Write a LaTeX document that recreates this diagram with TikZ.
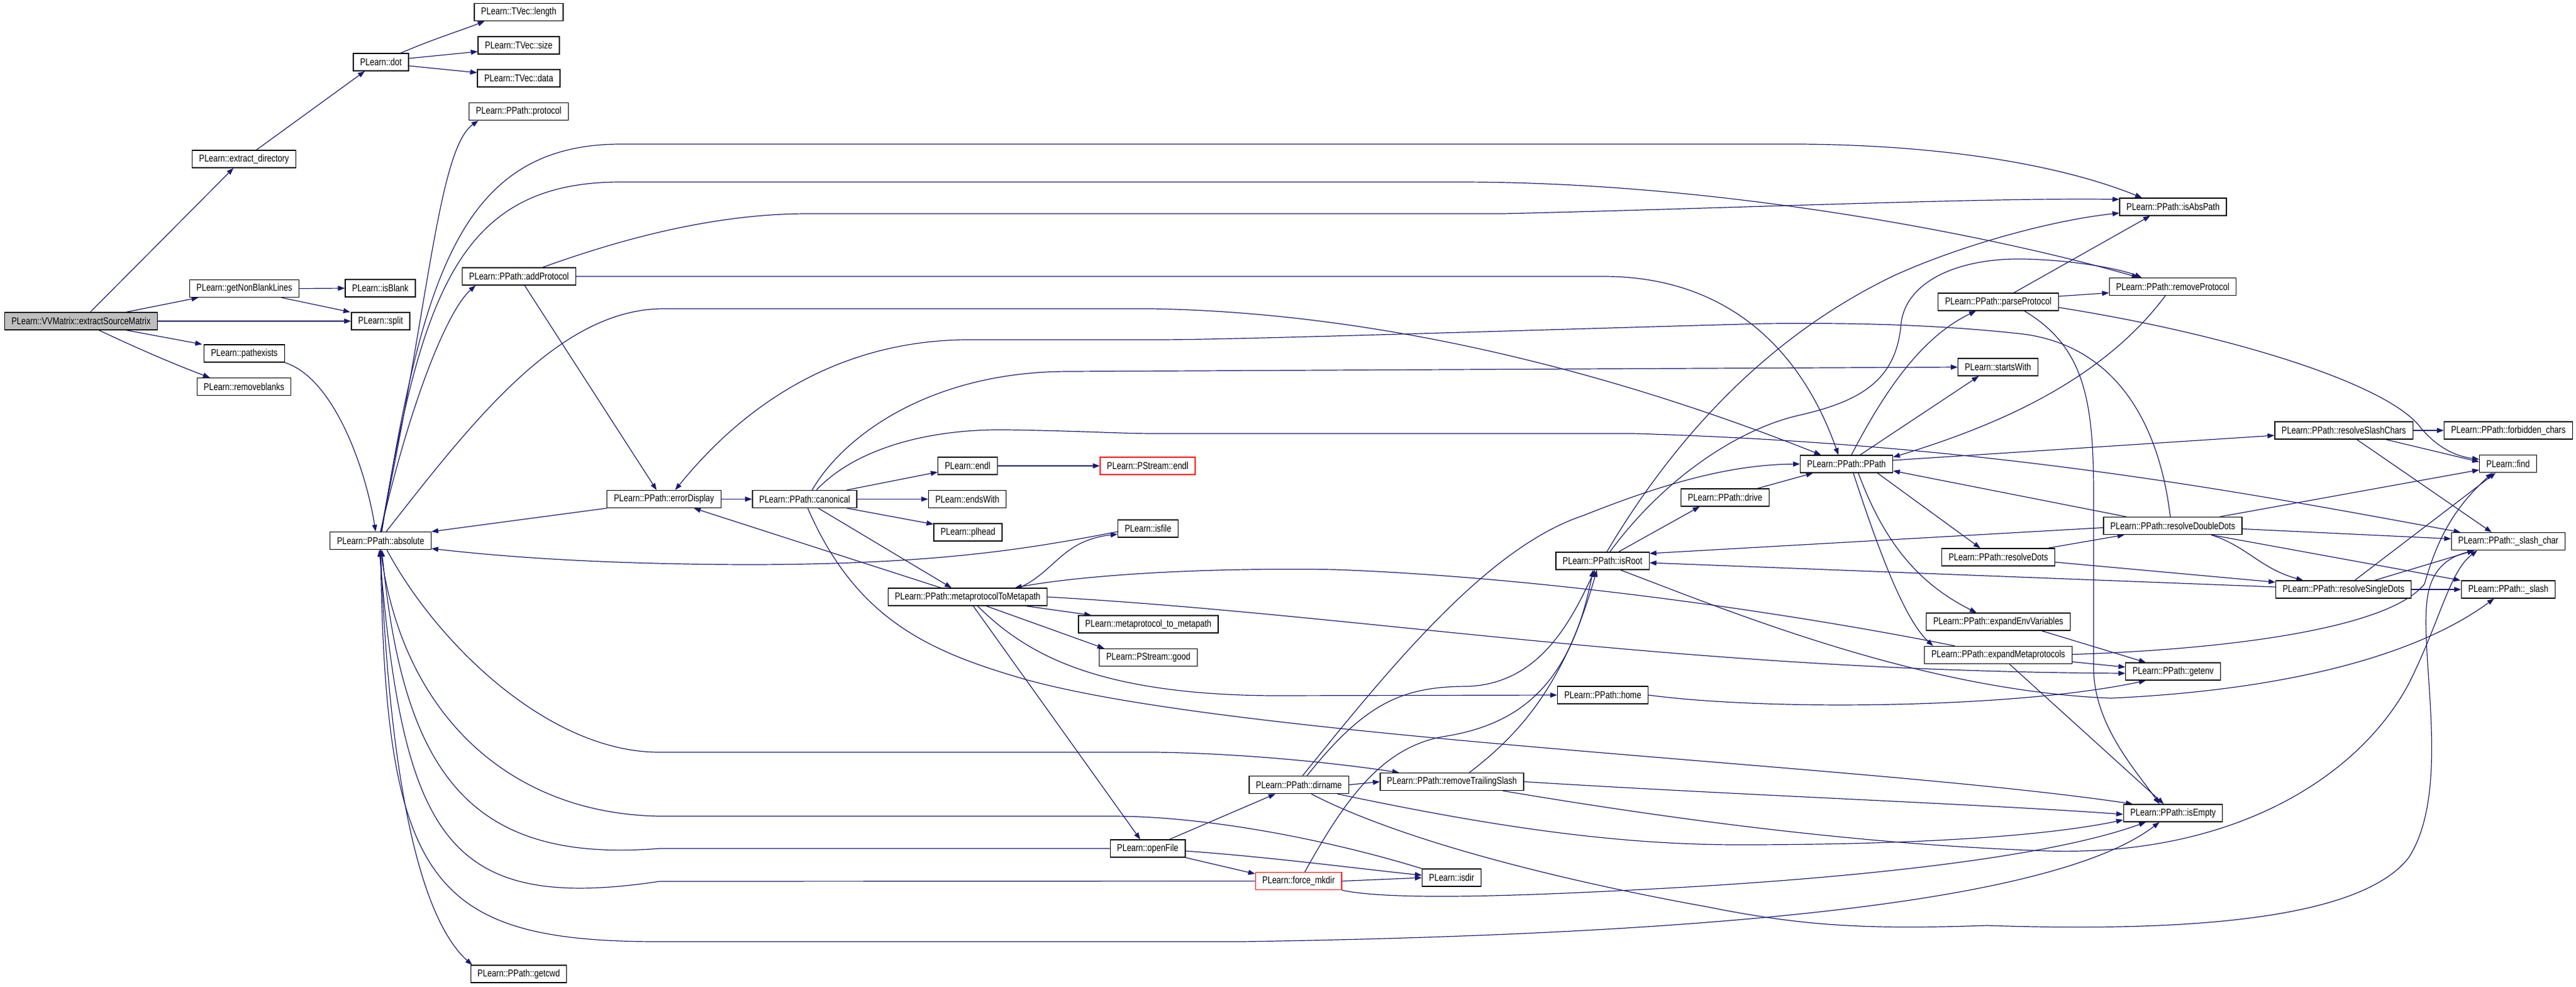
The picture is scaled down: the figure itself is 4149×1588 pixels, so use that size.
\documentclass[tikz,border=0pt]{standalone}
\usepackage{fontspec}
\setmainfont{Liberation Sans}
\usepackage{graphicx}
\usetikzlibrary{arrows.meta}
\definecolor{edgec}{HTML}{191970}
\definecolor{rootfill}{HTML}{BFBFBF}
\newcommand\nm[1]{\scalebox{0.81}[1]{#1}}
\pgfdeclarelayer{bg}
\pgfsetlayers{bg,main}
\begin{document}
\begin{tikzpicture}[x=1pt,y=-1pt,
  fn/.style={draw=black, line width=1.3pt, fill=white, minimum height=28pt,
    inner xsep=11pt, inner ysep=0pt, font=\fontsize{16}{16}\selectfont},
  redbox/.style={fn, draw=red},
  rootbox/.style={fn, fill=rootfill},
  cl/.style={draw=edgec, line width=1.2pt, -{Triangle[length=11pt,width=8pt]}}]
\useasboundingbox (0,0) rectangle (4149,1588);
% nodes
\node[rootbox] (vv) at (130.5,517) {\nm{PLearn::VVMatrix::extractSourceMatrix}};
\node[fn] (exdir) at (393,256) {\nm{PLearn::extract\_directory}};
\node[fn] (gnbl) at (393.5,464.5) {\nm{PLearn::getNonBlankLines}};
\node[fn] (pexists) at (393.5,569) {\nm{PLearn::pathexists}};
\node[fn] (rmblanks) at (393,622.5) {\nm{PLearn::removeblanks}};
\node[fn] (dot) at (613.5,100) {\nm{PLearn::dot}};
\node[fn] (isblank) at (612.5,464) {\nm{PLearn::isBlank}};
\node[fn] (split) at (613,517) {\nm{PLearn::split}};
\node[fn] (absolute) at (613,870.5) {\nm{PLearn::PPath::absolute}};
\node[fn] (tlen) at (835.5,19.5) {\nm{PLearn::TVec::length}};
\node[fn] (tsize) at (835.5,73) {\nm{PLearn::TVec::size}};
\node[fn] (tdata) at (835.5,126) {\nm{PLearn::TVec::data}};
\node[fn] (protocol) at (835.5,179.5) {\nm{PLearn::PPath::protocol}};
\node[fn] (addp) at (836,445) {\nm{PLearn::PPath::addProtocol}};
\node[fn] (getcwd) at (835.5,1568) {\nm{PLearn::PPath::getcwd}};
\node[fn] (errd) at (1069.5,803.5) {\nm{PLearn::PPath::errorDisplay}};
\node[fn] (canon) at (1296,803.5) {\nm{PLearn::PPath::canonical}};
\node[fn] (endl) at (1558.5,750) {\nm{PLearn::endl}};
\node[fn] (endsw) at (1558,803.5) {\nm{PLearn::endsWith}};
\node[fn] (plhead) at (1559,857) {\nm{PLearn::plhead}};
\node[fn] (mtm) at (1558.5,961) {\nm{PLearn::PPath::metaprotocolToMetapath}};
\node[redbox] (pendl) at (1848.5,750) {\nm{PLearn::PStream::endl}};
\node[fn] (isfile) at (1849,851) {\nm{PLearn::isfile}};
\node[fn] (m2m) at (1849.5,1005) {\nm{PLearn::metaprotocol\_to\_metapath}};
\node[fn] (good) at (1849.5,1058.5) {\nm{PLearn::PStream::good}};
\node[fn] (openf) at (1848.5,1366) {\nm{PLearn::openFile}};
\node[fn] (dirname) at (2092,1263.5) {\nm{PLearn::PPath::dirname}};
\node[redbox] (fmkdir) at (2091.5,1418.5) {\nm{PLearn::force\_mkdir}};
\node[fn] (rts) at (2338.5,1258.5) {\nm{PLearn::PPath::removeTrailingSlash}};
\node[fn] (isdir) at (2338,1413) {\nm{PLearn::isdir}};
\node[fn] (isroot) at (2581,903) {\nm{PLearn::PPath::isRoot}};
\node[fn] (home) at (2581.5,1119) {\nm{PLearn::PPath::home}};
\node[fn] (drive) at (2778.5,801) {\nm{PLearn::PPath::drive}};
\node[fn] (ppath) at (2974,747) {\nm{PLearn::PPath::PPath}};
\node[fn] (parsep) at (3218.5,486) {\nm{PLearn::PPath::parseProtocol}};
\node[fn] (startsw) at (3218,591) {\nm{PLearn::startsWith}};
\node[fn] (rdots) at (3218.5,897) {\nm{PLearn::PPath::resolveDots}};
\node[fn] (eev) at (3218.5,1001) {\nm{PLearn::PPath::expandEnvVariables}};
\node[fn] (emp) at (3218.5,1054.5) {\nm{PLearn::PPath::expandMetaprotocols}};
\node[fn] (isabs) at (3500,333) {\nm{PLearn::PPath::isAbsPath}};
\node[fn] (rmprot) at (3499.5,461.5) {\nm{PLearn::PPath::removeProtocol}};
\node[fn] (rdd) at (3499.5,846.5) {\nm{PLearn::PPath::resolveDoubleDots}};
\node[fn] (getenv) at (3500,1081) {\nm{PLearn::PPath::getenv}};
\node[fn] (isempty) at (3500,1309) {\nm{PLearn::PPath::isEmpty}};
\node[fn] (rsc) at (3775,693) {\nm{PLearn::PPath::resolveSlashChars}};
\node[fn] (rsd) at (3774.5,949) {\nm{PLearn::PPath::resolveSingleDots}};
\node[fn] (forb) at (4040,693) {\nm{PLearn::PPath::forbidden\_chars}};
\node[fn] (find) at (4039.5,746.5) {\nm{PLearn::find}};
\node[fn] (slashc) at (4040,871.5) {\nm{PLearn::PPath::\_slash\_char}};
\node[fn] (slash) at (4040,949) {\nm{PLearn::PPath::\_slash}};
% edges
\begin{pgfonlayer}{bg}
\draw[cl] ([xshift=15pt]vv.north) -- ([xshift=-17pt]exdir.south);
\draw[cl] ([xshift=73pt]vv.north) -- ([xshift=-74pt]gnbl.south);
\draw[cl] (vv.east) -- (split.west);
\draw[cl] ([xshift=73pt]vv.south) -- ([xshift=-68pt]pexists.north);
\draw[cl] ([xshift=29pt]vv.south) .. controls (230,565) and (290,590) .. ([xshift=-55pt]rmblanks.north);
\draw[cl] ([xshift=20pt]exdir.north) -- ([xshift=-26pt]dot.south);
\draw[cl] ([xshift=32pt]dot.north) .. controls (700,62) and (740,50) .. ([xshift=-55pt]tlen.south);
\draw[cl] ([yshift=6pt]dot.east) -- ([yshift=-10pt]tsize.west);
\draw[cl] ([yshift=-6pt]dot.east) -- ([yshift=9pt]tdata.west);
\draw[cl] (gnbl.east) -- (isblank.west);
\draw[cl] ([xshift=60pt]gnbl.south) -- ([xshift=-49pt]split.north);
\draw[cl] (pexists.south east) .. controls (540,610) and (590,760) .. ([xshift=-8pt]absolute.north);
% absolute
\draw[cl] (absolute.north) .. controls (690,500) and (705,240) .. ([xshift=-65pt]protocol.south);
\draw[cl] ([xshift=2pt]absolute.north) .. controls (680,450) and (740,232) .. (1000,232) -- (2900,232) .. controls (3150,234) and (3330,270) .. ([xshift=-50pt]isabs.north);
\draw[cl] ([xshift=1pt]absolute.north) .. controls (680,470) and (740,293) .. (1000,293) -- (2350,293) .. controls (2800,293) and (3250,390) .. ([xshift=-55pt]rmprot.north);
\draw[cl] (absolute.north) .. controls (660,650) and (720,500) .. ([xshift=-70pt]addp.south);
\draw[cl] ([xshift=9pt]absolute.north) .. controls (760,680) and (900,497) .. (1069,497) -- (1855,497) .. controls (2300,505) and (2700,640) .. ([xshift=-41pt]ppath.north);
\draw[cl] ([xshift=10pt]absolute.south) .. controls (700,1030) and (880,1211) .. (1062,1211) -- (1862,1211) .. controls (2000,1213) and (2150,1228) .. ([xshift=-85pt]rts.north);
\draw[cl] (absolute.south) .. controls (620,1420) and (690,1516) .. (1062,1516) -- (2000,1516) .. controls (2700,1505) and (3300,1460) .. ([xshift=-22pt]isempty.south);
\draw[cl] (absolute.south) .. controls (630,1350) and (700,1500) .. ([xshift=-75pt]getcwd.north);
% addProtocol
\draw[cl] ([xshift=38pt]addp.north) .. controls (1000,385) and (1150,344) .. (1301,344) -- (2421,344) .. controls (2800,335) and (3200,318) .. ([yshift=12pt]isabs.west);
\draw[cl] (addp.east) -- (2582,445) .. controls (2780,445) and (2900,560) .. ([xshift=-13pt]ppath.north);
\draw[cl] ([xshift=9pt]addp.south) -- ([xshift=-12pt]errd.north);
% errorDisplay, canonical
\draw[cl] (errd.south west) -- (absolute.north east);
\draw[cl] (errd.east) -- (canon.west);
\draw[cl] ([xshift=68pt]canon.north) -- ([yshift=-10pt]endl.west);
\draw[cl] (canon.east) -- (endsw.west);
\draw[cl] ([xshift=68pt]canon.south) -- ([yshift=13pt]plhead.west);
\draw[cl] ([xshift=22pt]canon.south) -- ([xshift=-26pt]mtm.north);
\draw[cl] ([xshift=12pt]canon.north) .. controls (1360,700) and (1500,598) .. (1722,598) -- (startsw.west);
\draw[cl] ([xshift=19pt]canon.north) .. controls (1380,720) and (1500,690) .. (1623,692) .. controls (1750,694) and (1800,698) .. (1862,698) -- (2631,698) .. controls (3200,715) and (3600,790) .. ([xshift=-77pt]slashc.north);
\draw[cl] ([xshift=5pt]canon.south) .. controls (1380,1000) and (1500,1050) .. (1652,1094) .. controls (2000,1190) and (3000,1230) .. ([xshift=-65pt]isempty.north);
\draw[cl] (endl.east) -- (pendl.west);
% metaprotocolToMetapath
\draw[cl] ([xshift=-43pt]mtm.north) -- ([xshift=48pt]errd.south);
\draw[cl] ([xshift=83pt]mtm.north) .. controls (1700,920) and (1710,870) .. ([yshift=-9pt]isfile.west);
\draw[cl] ([xshift=94pt]mtm.south) -- ([xshift=-92pt]m2m.north);
\draw[cl] ([xshift=30pt]mtm.south) -- ([xshift=-71pt]good.north);
\draw[cl] ([xshift=9pt]mtm.south) -- ([xshift=-12pt]openf.north);
\draw[cl] ([xshift=16pt]mtm.south) .. controls (1650,1050) and (1760,1118) .. (2050,1120) -- (home.west);
\draw[cl] (mtm.east) .. controls (2200,990) and (2700,1080) .. ([yshift=-3pt]getenv.west);
\draw[cl] ([yshift=-5pt]isfile.west) .. controls (1650,885) and (1500,909) .. (1200,909) .. controls (950,908) and (800,895) .. ([yshift=2pt]absolute.south east);
% openFile, force_mkdir, isdir
\draw[cl] (openf.west) -- (1062,1366) .. controls (760,1390) and (650,1250) .. ([xshift=2pt]absolute.south);
\draw[cl] ([xshift=35pt]openf.north) -- ([xshift=-38pt]dirname.south);
\draw[cl] (openf.south east) -- ([yshift=-3pt]fmkdir.north west);
\draw[cl] ([yshift=-4pt]openf.east) .. controls (2050,1380) and (2200,1400) .. ([yshift=4pt]isdir.west);
\draw[cl] (fmkdir.west) -- (1062,1419) .. controls (720,1470) and (650,1350) .. ([xshift=-2pt]absolute.south);
\draw[cl] (fmkdir.east) -- (isdir.west);
\draw[cl] ([xshift=10pt]fmkdir.north) .. controls (2170,1280) and (2230,1200) .. (2330,1185) .. controls (2450,1165) and (2530,1100) .. ([xshift=-15pt]isroot.south);
\draw[cl] (fmkdir.south east) .. controls (2250,1452) and (2500,1440) .. (2701,1429) .. controls (3000,1412) and (3300,1380) .. ([xshift=-44pt]isempty.south);
\draw[cl] (isdir.north west) .. controls (2150,1355) and (1950,1314) .. (1792,1314) -- (1062,1314) .. controls (820,1310) and (650,1150) .. (absolute.south);
% dirname, removeTrailingSlash
\draw[cl] ([xshift=6pt]dirname.north) .. controls (2250,1060) and (2400,880) .. (2550,830) .. controls (2700,770) and (2800,748) .. (ppath.west);
\draw[cl] ([xshift=13pt]dirname.north) .. controls (2200,1130) and (2260,1105) .. (2365,1105) .. controls (2480,1100) and (2530,1000) .. ([xshift=-12pt]isroot.south);
\draw[cl] (dirname.east) -- (rts.west);
\draw[cl] ([xshift=62pt]dirname.south) .. controls (2400,1330) and (2600,1360) .. (2800,1360) .. controls (3100,1360) and (3300,1345) .. ([yshift=-11pt]isempty.west);
\draw[cl] ([xshift=20pt]dirname.south) .. controls (2250,1350) and (2500,1415) .. (2750,1460) .. controls (2900,1490) and (3000,1497) .. (3200,1490) .. controls (3500,1500) and (3800,1485) .. (3880,1380) .. controls (3950,1270) and (3895,1050) .. (3910,960) .. controls (3918,910) and (3950,895) .. ([xshift=-55pt]slashc.south);
\draw[cl] ([xshift=28pt]rts.north) .. controls (2450,1180) and (2520,1100) .. ([xshift=-9pt]isroot.south);
\draw[cl] (rts.east) .. controls (2800,1280) and (3200,1295) .. ([yshift=-2pt]isempty.west);
\draw[cl] ([xshift=82pt]rts.south) .. controls (2700,1320) and (3000,1360) .. (3300,1370) .. controls (3600,1378) and (3800,1250) .. (3880,1100) .. controls (3930,1000) and (3945,920) .. ([xshift=-50pt]slashc.south);
% isRoot, drive, home
\draw[cl] ([xshift=7pt]isroot.north) .. controls (2700,700) and (2850,540) .. (3050,444) .. controls (3150,398) and (3300,355) .. ([yshift=-10pt]isabs.west);
\draw[cl] ([xshift=12pt]isroot.north) .. controls (2680,770) and (2800,690) .. (2900,668) .. controls (3000,645) and (3055,610) .. (3062,520) .. controls (3070,455) and (3150,415) .. (3260,417) .. controls (3350,419) and (3420,435) .. ([xshift=-50pt]rmprot.north);
\draw[cl] ([xshift=26pt]isroot.north) -- ([xshift=-41pt]drive.south);
\draw[cl] ([xshift=29pt]isroot.south) .. controls (2800,990) and (3100,1112) .. (3400,1124) .. controls (3700,1110) and (3900,1050) .. ([xshift=-23pt]slash.south);
\draw[cl] ([xshift=52pt]drive.north) -- ([xshift=-54pt]ppath.south);
\draw[cl] (home.east) .. controls (2850,1145) and (3250,1140) .. ([xshift=-44pt]getenv.south);
% PPath
\draw[cl] ([xshift=8pt]ppath.north) .. controls (3040,620) and (3100,540) .. ([xshift=-36pt]parsep.south);
\draw[cl] ([xshift=22pt]ppath.north) -- ([xshift=-31pt]startsw.south);
\draw[cl] ([yshift=6pt]ppath.east) -- ([yshift=-8pt]rsc.west);
\draw[cl] ([xshift=50pt]ppath.south) -- ([xshift=-29pt]rdots.north);
\draw[cl] ([xshift=19pt]ppath.south) .. controls (3030,860) and (3080,935) .. ([xshift=-35pt]eev.north);
\draw[cl] ([xshift=11pt]ppath.south) .. controls (3030,900) and (3070,1000) .. ([xshift=-105pt]emp.north);
% parseProtocol, removeProtocol
\draw[cl] ([xshift=25pt]parsep.north) -- ([xshift=-37pt]isabs.south);
\draw[cl] ([yshift=9pt]parsep.east) -- ([yshift=-10pt]rmprot.west);
\draw[cl] ([yshift=-9pt]parsep.east) .. controls (3600,540) and (3850,620) .. (3900,690) .. controls (3930,725) and (3960,735) .. ([yshift=7pt]find.west);
\draw[cl] ([xshift=42pt]parsep.south) .. controls (3360,560) and (3372,650) .. (3372,800) -- (3372,1080) .. controls (3375,1170) and (3440,1240) .. ([xshift=-22pt]isempty.north);
\draw[cl] ([xshift=-12pt]rmprot.south) .. controls (3380,620) and (3200,690) .. ([yshift=11pt]ppath.east);
% resolveDots family
\draw[cl] ([xshift=80pt]rdots.north) -- ([xshift=-78pt]rdd.south);
\draw[cl] ([yshift=-8pt]rdots.east) -- ([yshift=-3pt]rsd.north west);
\draw[cl] ([yshift=-3pt]rdd.west) -- ([yshift=12pt]isroot.east);
\draw[cl] ([yshift=4pt]rsd.west) -- ([yshift=-3pt]isroot.east);
\draw[cl] ([xshift=-75pt]rdd.north) -- ([yshift=-11pt]ppath.east);
\draw[cl] ([xshift=-4pt]rdd.north) .. controls (3480,700) and (3420,560) .. (3260,538) .. controls (3100,520) and (2950,520) .. (2842,521) .. controls (2500,530) and (2000,547) .. (1862,547) -- (1553,547) .. controls (1350,550) and (1200,650) .. ([xshift=18pt]errd.north);
\draw[cl] ([xshift=76pt]rdd.north) -- ([yshift=-10pt]find.west);
\draw[cl] ([yshift=-5pt]rdd.east) -- ([yshift=4pt]slashc.west);
\draw[cl] ([xshift=62pt]rdd.south) -- ([xshift=-77pt]slash.north);
\draw[cl] ([xshift=62pt]rdd.south) .. controls (3620,880) and (3640,915) .. ([xshift=-65pt]rsd.north);
\draw[cl] ([xshift=18pt]rsd.north) -- ([xshift=-20pt]find.south);
\draw[cl] ([xshift=50pt]rsd.north) -- ([xshift=-55pt]slashc.south);
\draw[cl] (rsd.east) -- (slash.west);
\draw[cl] (rsc.east) -- (forb.west);
\draw[cl] ([xshift=68pt]rsc.south) -- ([yshift=3pt]find.west);
\draw[cl] ([xshift=21pt]rsc.south) -- ([xshift=-27pt]slashc.north);
% expand*
\draw[cl] ([xshift=-70pt]emp.north) .. controls (2900,990) and (2500,930) .. (2150,917) .. controls (1900,913) and (1720,930) .. ([xshift=76pt]mtm.north);
\draw[cl] ([yshift=-11pt]emp.east) -- ([yshift=7pt]getenv.west);
\draw[cl] ([xshift=18pt]emp.south) -- ([xshift=-15pt]isempty.north);
\draw[cl] ([yshift=1pt]emp.east) .. controls (3600,1045) and (3850,1010) .. (3905,940) .. controls (3925,870) and (3950,820) .. ([xshift=-25pt]find.south);
\draw[cl] ([xshift=70pt]eev.south) -- ([xshift=-44pt]getenv.north);
\end{pgfonlayer}
\end{tikzpicture}
\end{document}
